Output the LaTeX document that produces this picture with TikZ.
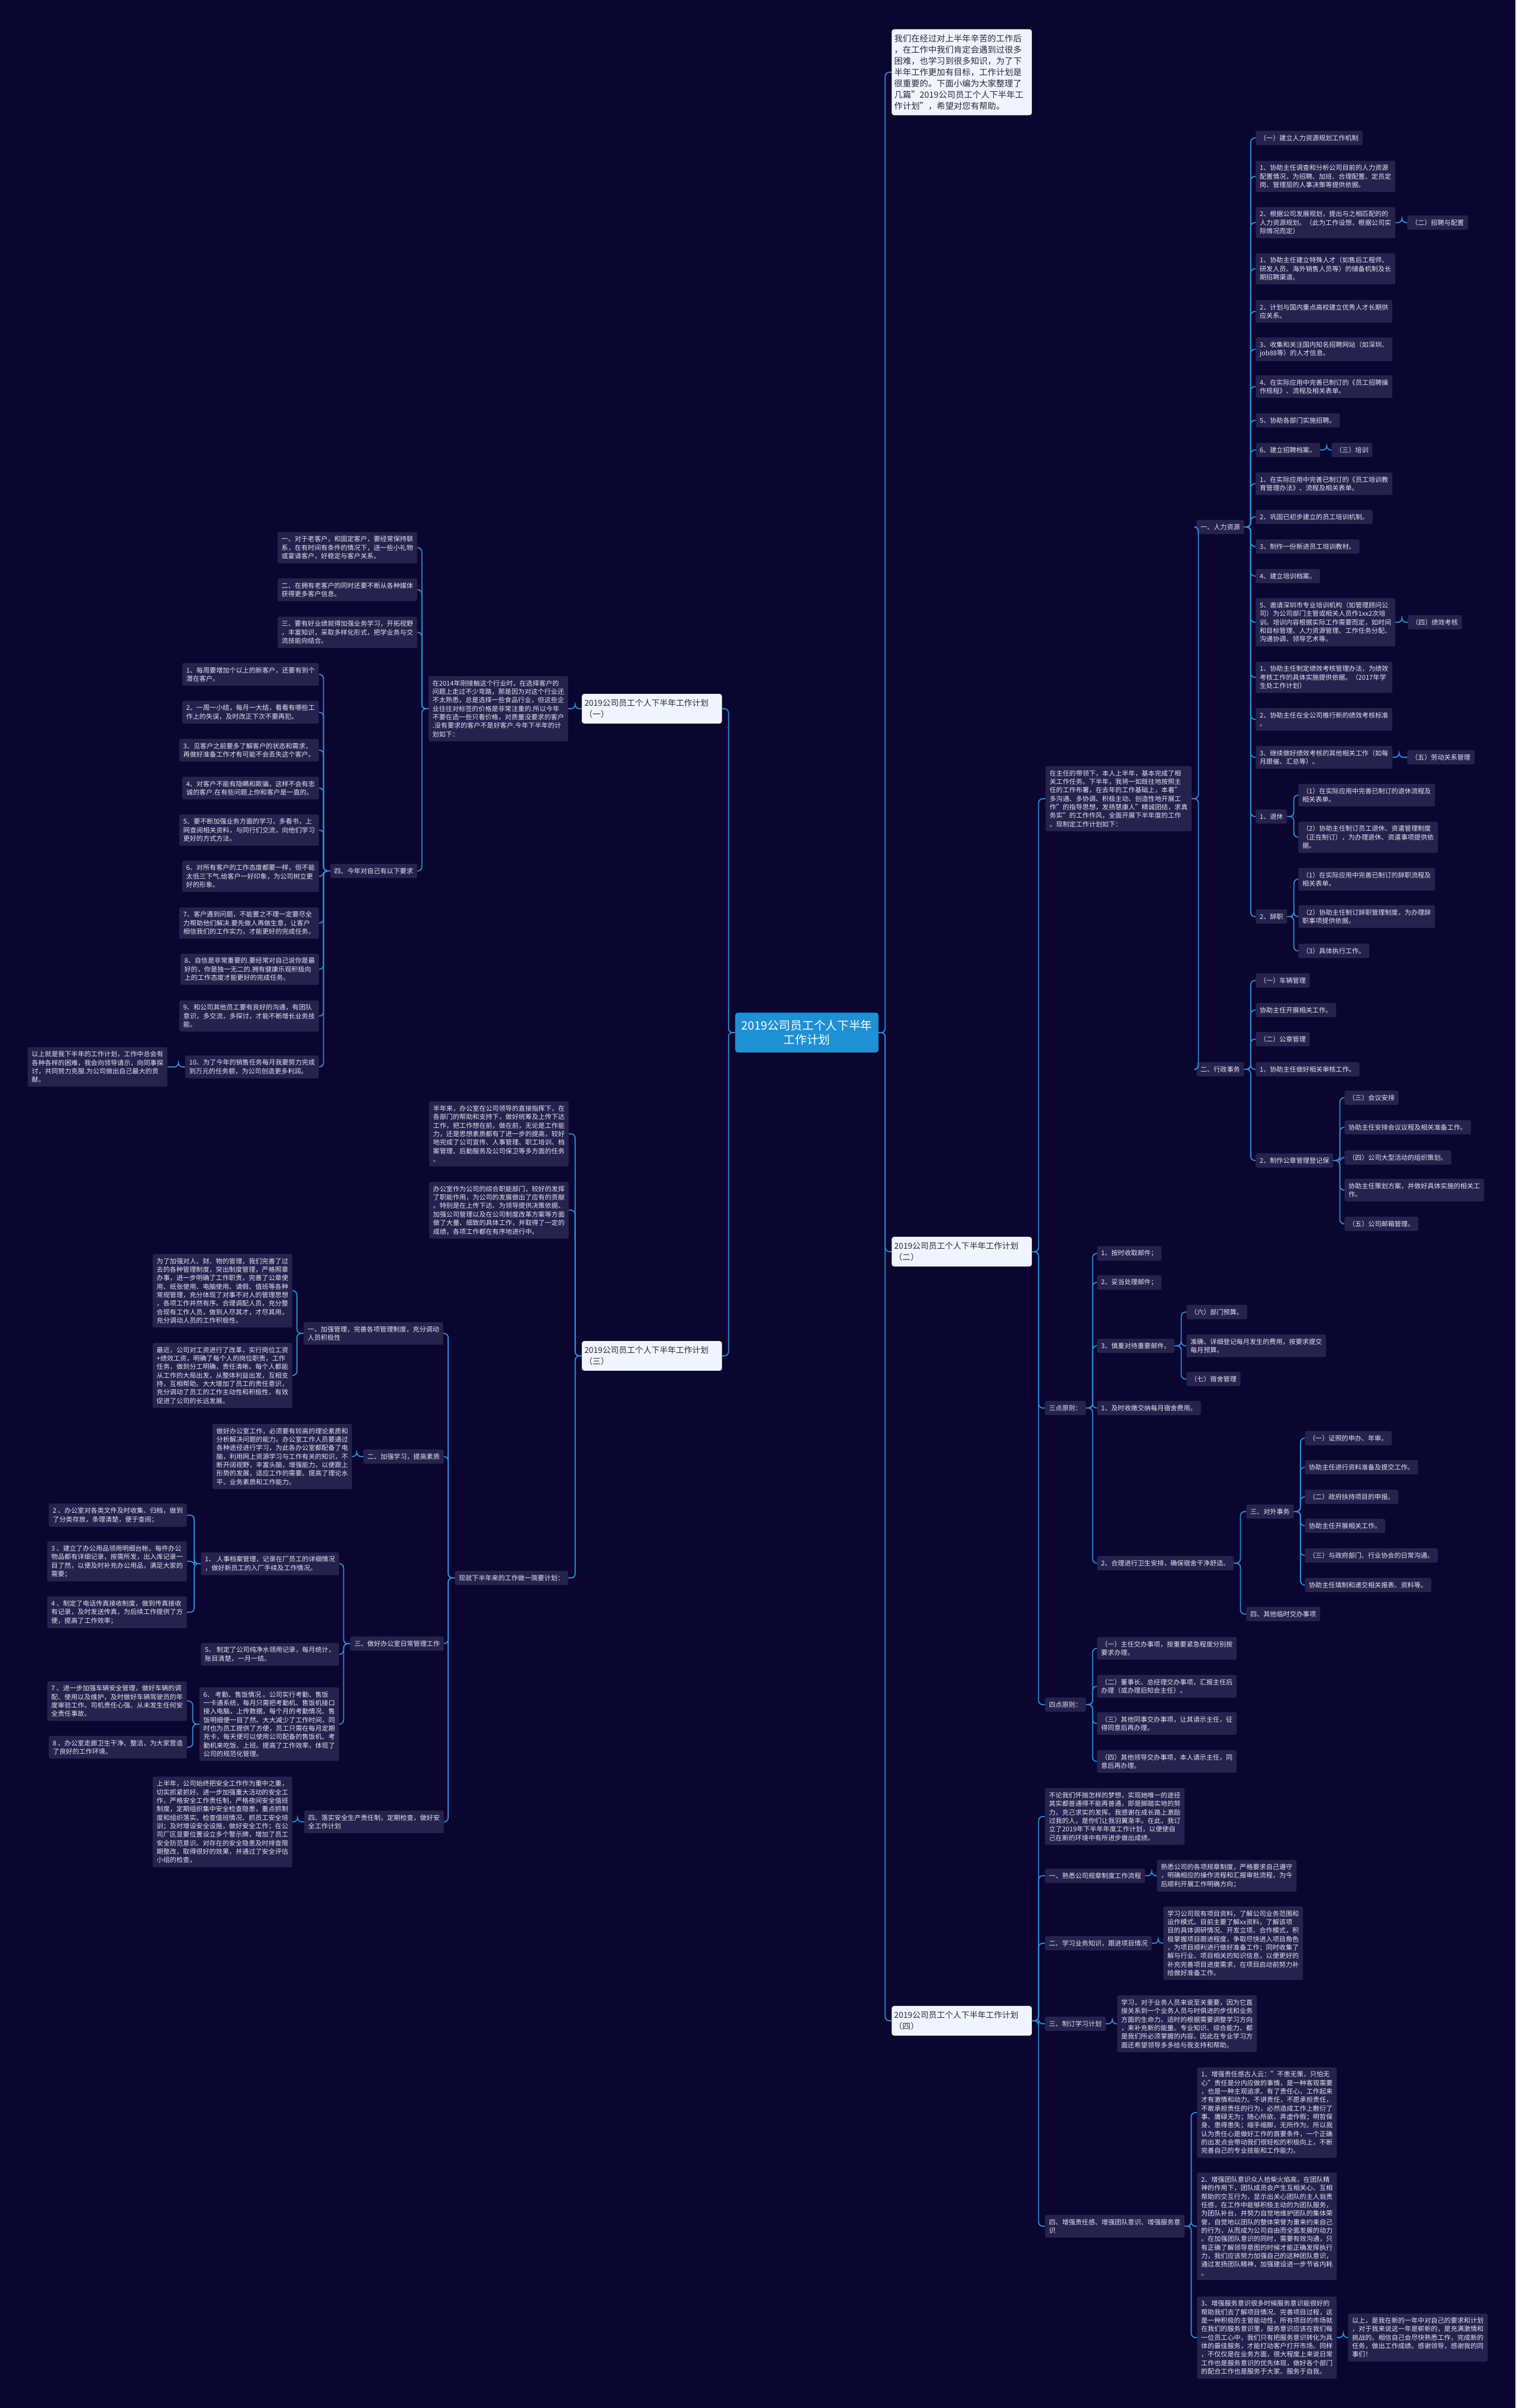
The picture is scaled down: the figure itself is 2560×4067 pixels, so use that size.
\documentclass[tikz,border=0pt]{standalone}
\usepackage{fontspec}
\setmainfont{Noto Sans CJK SC}
\usetikzlibrary{positioning}

\definecolor{bgnavy}{RGB}{11,6,48}
\definecolor{leaffill}{RGB}{38,34,78}
\definecolor{leaftext}{RGB}{230,230,240}
\definecolor{topicfill}{RGB}{240,245,253}
\definecolor{topictext}{RGB}{40,40,60}
\definecolor{rootblue}{RGB}{30,144,212}
\definecolor{linkblue}{RGB}{45,140,215}

\tikzset{
  rootnode/.style={fill=rootblue, text=white, rounded corners=3pt, align=center,
    minimum width=6.05cm, inner ysep=0.3cm, font=\fontsize{14pt}{17.7pt}\selectfont},
  topic/.style={fill=topicfill, text=topictext, rounded corners=3pt, align=left,
    text width=5.7cm, inner xsep=0.11cm, inner ysep=0.22cm, font=\fontsize{9.8pt}{13.9pt}\selectfont},
  intro/.style={topic, font=\fontsize{10.2pt}{13.5pt}\selectfont},
  leaf/.style={fill=leaffill, text=leaftext, rounded corners=2pt, align=left,
    inner xsep=0.17cm, inner ysep=0.17cm, font=\fontsize{7.9pt}{10.2pt}\selectfont},
  rleaf/.style={leaf, anchor=west},
  lleaf/.style={leaf, anchor=east},
  link/.style={draw=linkblue, line width=1.3pt, rounded corners=5pt}
}

\begin{document}
\begin{tikzpicture}[x=0.025cm, y=-0.025cm]
\useasboundingbox (0,0) rectangle (2560,4067);
\fill[bgnavy] (0,0) rectangle (2560,4067);

% root
\node[rootnode] (root) at (1363,1744) {2019公司员工个人下半年\\工作计划};

% right topics
\node[intro, anchor=west] (intro) at (1506,122) {我们在经过对上半年辛苦的工作后\\，在工作中我们肯定会遇到过很多\\困难，也学习到很多知识，为了下\\半年工作更加有目标，工作计划是\\很重要的。下面小编为大家整理了\\几篇"2019公司员工个人下半年工\\作计划"，希望对您有帮助。};
\node[topic, anchor=west] (t2) at (1506,2114) {2019公司员工个人下半年工作计划\\（二）};
\node[topic, anchor=west] (t4) at (1506,3413) {2019公司员工个人下半年工作计划\\（四）};

% left topics
\node[topic, anchor=east] (t1) at (1220,1197) {2019公司员工个人下半年工作计划\\（一）};
\node[topic, anchor=east] (t3) at (1220,2290) {2019公司员工个人下半年工作计划\\（三）};

% (二)
\node[rleaf] (p2) at (1766,1349) {在主任的带领下，本人上半年，基本完成了相\\关工作任务。下半年，我将一如既往地按照主\\任的工作布署，在去年的工作基础上，本着"\\多沟通、多协调、积极主动、创造性地开展工\\作"的指导思想，发扬慧康人"精诚团结，求真\\务实"的工作作风，全面开展下半年度的工作\\。现制定工作计划如下：};
\node[rleaf] (m1) at (2021,890) {一、人力资源};
\node[rleaf] (m2) at (2021,1806) {二、行政事务};

\node[rleaf] (n1) at (2121,233) {（一）建立人力资源规划工作机制};
\node[rleaf] (n2) at (2121,298) {1、协助主任调查和分析公司目前的人力资源\\配置情况，为招聘、加班、合理配置、定员定\\岗、管理层的人事决策等提供依据。};
\node[rleaf] (n3) at (2121,376) {2、根据公司发展规划，提出与之相匹配的的\\人力资源规划。（此为工作设想，根据公司实\\际情况而定）};
\node[rleaf] (n3a) at (2377,376) {（二）招聘与配置};
\node[rleaf] (n4) at (2121,454) {1、协助主任建立特殊人才（如售后工程师、\\研发人员、海外销售人员等）的储备机制及长\\期招聘渠道。};
\node[rleaf] (n5) at (2121,526) {2、计划与国内重点高校建立优秀人才长期供\\应关系。};
\node[rleaf] (n6) at (2121,590) {3、收集和关注国内知名招聘网站（如深圳、\\job88等）的人才信息。};
\node[rleaf] (n7) at (2121,653) {4、在实际应用中完善已制订的《员工招聘操\\作规程》、流程及相关表单。};
\node[rleaf] (n8) at (2121,710) {5、协助各部门实施招聘。};
\node[rleaf] (n9) at (2121,760) {6、建立招聘档案。};
\node[rleaf] (n9a) at (2249,760) {（三）培训};
\node[rleaf] (n10) at (2121,817) {1、在实际应用中完善已制订的《员工培训教\\育管理办法》、流程及相关表单。};
\node[rleaf] (n11) at (2121,873) {2、巩固已初步建立的员工培训机制。};
\node[rleaf] (n12) at (2121,923) {3、制作一份新进员工培训教材。};
\node[rleaf] (n13) at (2121,973) {4、建立培训档案。};
\node[rleaf] (n14) at (2121,1051) {5、邀请深圳市专业培训机构（如管理顾问公\\司）为公司部门主管或相关人员作1xx2次培\\训。培训内容根据实际工作需要而定，如时间\\和目标管理、人力资源管理、工作任务分配、\\沟通协调、领导艺术等。};
\node[rleaf] (n14a) at (2378,1051) {（四）绩效考核};
\node[rleaf] (n15) at (2121,1144) {1、协助主任制定绩效考核管理办法，为绩效\\考核工作的具体实施提供依据。（2017年学\\生处工作计划）};
\node[rleaf] (n16) at (2121,1215) {2、协助主任在全公司推行新的绩效考核标准\\。};
\node[rleaf] (n17) at (2121,1279) {3、继续做好绩效考核的其他相关工作（如每\\月跟催、汇总等）。};
\node[rleaf] (n17a) at (2377,1279) {（五）劳动关系管理};
\node[rleaf] (n18) at (2121,1379) {1、退休};
\node[rleaf] (n18a) at (2193,1343) {（1）在实际应用中完善已制订的退休流程及\\相关表单。};
\node[rleaf] (n18b) at (2193,1414) {（2）协助主任制订员工退休、资遣管理制度\\（正在制订），为办理退休、资遣事项提供依\\据。};
\node[rleaf] (n19) at (2121,1548) {2、辞职};
\node[rleaf] (n19a) at (2193,1485) {（1）在实际应用中完善已制订的辞职流程及\\相关表单。};
\node[rleaf] (n19b) at (2193,1548) {（2）协助主任制订辞职管理制度，为办理辞\\职事项提供依据。};
\node[rleaf] (n19c) at (2193,1606) {（3）具体执行工作。};

\node[rleaf] (q1) at (2121,1656) {（一）车辆管理};
\node[rleaf] (q2) at (2121,1706) {协助主任开展相关工作。};
\node[rleaf] (q3) at (2121,1755) {（二）公章管理};
\node[rleaf] (q4) at (2121,1806) {1、协助主任做好相关审核工作。};
\node[rleaf] (q5) at (2121,1960) {2、制作公章管理登记保};
\node[rleaf] (q5a) at (2271,1854) {（三）会议安排};
\node[rleaf] (q5b) at (2271,1904) {协助主任安排会议议程及相关准备工作。};
\node[rleaf] (q5c) at (2271,1955) {（四）公司大型活动的组织策划。};
\node[rleaf] (q5d) at (2271,2010) {协助主任策划方案，并做好具体实施的相关工\\作。};
\node[rleaf] (q5e) at (2271,2067) {（五）公司邮箱管理。};

\node[rleaf] (s1) at (1765,2378) {三点原则：};
\node[rleaf] (r1) at (1853,2117) {1、按时收取邮件；};
\node[rleaf] (r2) at (1853,2166) {2、妥当处理邮件；};
\node[rleaf] (r3) at (1853,2273) {3、慎重对待重要邮件。};
\node[rleaf] (r3a) at (2004,2216) {（六）部门预算。};
\node[rleaf] (r3b) at (2004,2273) {准确、详细登记每月发生的费用，按要求提交\\每月预算。};
\node[rleaf] (r3c) at (2004,2329) {（七）宿舍管理};
\node[rleaf] (r4) at (1853,2378) {1、及时收缴交纳每月宿舍费用。};
\node[rleaf] (r5) at (1853,2640) {2、合理进行卫生安排，确保宿舍干净舒适。};
\node[rleaf] (u1) at (2105,2553) {三、对外事务};
\node[rleaf] (u1a) at (2204,2429) {（一）证照的申办、年审。};
\node[rleaf] (u1b) at (2204,2478) {协助主任进行资料准备及提交工作。};
\node[rleaf] (u1c) at (2204,2528) {（二）政府扶持项目的申报。};
\node[rleaf] (u1d) at (2204,2577) {协助主任开展相关工作。};
\node[rleaf] (u1e) at (2204,2627) {（三）与政府部门、行业协会的日常沟通。};
\node[rleaf] (u1f) at (2204,2677) {协助主任填制和递交相关报表、资料等。};
\node[rleaf] (u2) at (2105,2726) {四、其他临时交办事项};

\node[rleaf] (s2) at (1765,2879) {四点原则：};
\node[rleaf] (v1) at (1853,2784) {（一）主任交办事项，按重要紧急程度分别按\\要求办理。};
\node[rleaf] (v2) at (1853,2848) {（二）董事长、总经理交办事项，汇报主任后\\办理（或办理后知会主任）。};
\node[rleaf] (v3) at (1853,2911) {（三）其他同事交办事项，让其请示主任，征\\得同意后再办理。};
\node[rleaf] (v4) at (1853,2975) {（四）其他领导交办事项，本人请示主任，同\\意后再办理。};

% (四)
\node[rleaf] (w0) at (1765,3068) {不论我们怀揣怎样的梦想，实现她唯一的途径\\其实都普通得不能再普通，即是脚踏实地的努\\力，克己求实的发挥。我感谢在成长路上激励\\过我的人，是你们让我羽翼渐丰。在此，我订\\立了2019年下半年年度工作计划，以便使自\\己在新的环境中有所进步做出成绩。};
\node[rleaf] (w1) at (1765,3168) {一、熟悉公司规章制度工作流程};
\node[rleaf] (w1a) at (1954,3168) {熟悉公司的各项规章制度，严格要求自己遵守\\，明确相应的操作流程和汇报审批流程，为今\\后顺利开展工作明确方向；};
\node[rleaf] (w2) at (1765,3282) {二、学习业务知识，跟进项目情况};
\node[rleaf] (w2a) at (1965,3282) {学习公司现有项目资料，了解公司业务范围和\\运作模式。目前主要了解xx资料，了解该项\\目的具体调研情况、开发立项、合作模式，积\\极掌握项目跟进程度，争取尽快进入项目角色\\，为项目顺利进行做好准备工作；同时收集了\\解与行业、项目相关的知识信息，以便更好的\\补充完善项目进度需求，在项目启动前努力补\\给做好准备工作。};
\node[rleaf] (w3) at (1765,3418) {三、制订学习计划};
\node[rleaf] (w3a) at (1887,3418) {学习，对于业务人员来说至关重要，因为它直\\接关系到一个业务人员与时俱进的步伐和业务\\方面的生命力。适时的根据需要调整学习方向\\，来补充新的能量。专业知识、综合能力、都\\是我们所必须掌握的内容。因此在专业学习方\\面还希望领导多多给与我支持和帮助。};
\node[rleaf] (w4) at (1765,3760) {四、增强责任感、增强团队意识、增强服务意\\识};
\node[rleaf] (x1) at (2022,3568) {1、增强责任感古人云："不患无策，只怕无\\心"责任是分内应做的事情，是一种客观需要\\，也是一种主观追求。有了责任心，工作起来\\才有激情和动力。不讲责任，不愿承担责任，\\不敢承担责任的行为，必然造成工作上敷衍了\\事、庸碌无为；随心所欲、弄虚作假；明哲保\\身、患得患失；缩手缩脚，无所作为。所以我\\认为责任心是做好工作的首要条件，一个正确\\的出发点会带动我们很轻松的积极向上，不断\\完善自己的专业技能和工作能力。};
\node[rleaf] (x2) at (2022,3760) {2、增强团队意识众人拾柴火焰高，在团队精\\神的作用下，团队成员会产生互相关心、互相\\帮助的交互行为，显示出关心团队的主人翁责\\任感，在工作中能够积极主动的为团队服务，\\为团队补台，并努力自觉地维护团队的集体荣\\誉，自觉地以团队的整体荣誉为重来约束自己\\的行为，从而成为公司自由而全面发展的动力\\。在加强团队意识的同时，需要有效沟通，只\\有正确了解领导意图的时候才能正确发挥执行\\力，我们应该努力加强自己的这种团队意识，\\通过发扬团队精神，加强建设进一步节省内耗\\。};
\node[rleaf] (x3) at (2022,3948) {3、增强服务意识很多时候服务意识能很好的\\帮助我们去了解项目情况、完善项目过程，这\\是一种积极的主管能动性。所有项目的市场就\\在我们的服务意识里，服务意识应该在我们每\\一位员工心中，我们只有把服务意识转化为具\\体的最佳服务，才能打动客户打开市场。同样\\，不仅仅是在业务方面，很大程度上来说日常\\工作也是服务意识的优先体现，做好各个部门\\的配合工作也是服务于大家、服务于自我。};
\node[rleaf] (y1) at (2277,3948) {以上，是我在新的一年中对自己的要求和计划\\，对于我来说这一年是崭新的，是充满激情和\\挑战的。相信自己会尽快熟悉工作，完成新的\\任务，做出工作成绩。感谢领导，感谢我的同\\事们！};

% (一)
\node[lleaf] (p1) at (960,1197) {在2014年刚接触这个行业时，在选择客户的\\问题上走过不少弯路，那是因为对这个行业还\\不太熟悉，总是选择一些食品行业，但这些企\\业往往对标签的价格是非常注重的.所以今年\\不要在选一些只看价格，对质量没要求的客户\\.没有要求的客户不是好客户.今年下半年的计\\划如下：};
\node[lleaf] (a1) at (705,925) {一、对于老客户，和固定客户，要经常保持联\\系，在有时间有条件的情况下，送一些小礼物\\或宴请客户，好稳定与客户关系。};
\node[lleaf] (a2) at (705,996) {二、在拥有老客户的同时还要不断从各种媒体\\获得更多客户信息。};
\node[lleaf] (a3) at (705,1068) {三、要有好业绩就得加强业务学习，开拓视野\\，丰富知识，采取多样化形式，把学业务与交\\流技能向结合。};
\node[lleaf] (a4) at (705,1471) {四、今年对自己有以下要求};
\node[lleaf] (b1) at (539,1139) {1、每周要增加个以上的新客户，还要有到个\\潜在客户。};
\node[lleaf] (b2) at (539,1203) {2、一周一小结，每月一大结，看看有哪些工\\作上的失误，及时改正下次不要再犯。};
\node[lleaf] (b3) at (539,1267) {3、见客户之前要多了解客户的状态和需求，\\再做好准备工作才有可能不会丢失这个客户。};
\node[lleaf] (b4) at (539,1331) {4、对客户不能有隐瞒和欺骗，这样不会有忠\\诚的客户.在有些问题上你和客户是一直的。};
\node[lleaf] (b5) at (539,1402) {5、要不断加强业务方面的学习，多看书，上\\网查阅相关资料，与同行们交流，向他们学习\\更好的方式方法。};
\node[lleaf] (b6) at (539,1480) {6、对所有客户的工作态度都要一样，但不能\\太低三下气.给客户一好印象，为公司树立更\\好的形象。};
\node[lleaf] (b7) at (539,1559) {7、客户遇到问题，不能置之不理一定要尽全\\力帮助他们解决.要先做人再做生意，让客户\\相信我们的工作实力，才能更好的完成任务。};
\node[lleaf] (b8) at (539,1637) {8、自信是非常重要的.要经常对自己说你是最\\好的，你是独一无二的.拥有健康乐观积极向\\上的工作态度才能更好的完成任务。};
\node[lleaf] (b9) at (539,1716) {9、和公司其他员工要有良好的沟通，有团队\\意识，多交流，多探讨，才能不断增长业务技\\能。};
\node[lleaf] (b10) at (539,1802) {10、为了今年的销售任务每月我要努力完成\\到万元的任务额，为公司创造更多利润。};
\node[lleaf] (c10) at (283,1802) {以上就是我下半年的工作计划，工作中总会有\\各种各样的困难，我会向领导请示，向同事探\\讨，共同努力克服.为公司做出自己最大的贡\\献。};

% (三)
\node[lleaf] (d1) at (961,1915) {半年来，办公室在公司领导的直接指挥下，在\\各部门的帮助和支持下，做好统筹及上传下达\\工作，把工作想在前，做在前，无论是工作能\\力，还是思想素质都有了进一步的提高，较好\\地完成了公司宣传、人事管理、职工培训、档\\案管理、后勤服务及公司保卫等多方面的任务\\。};
\node[lleaf] (d2) at (961,2044) {办公室作为公司的综合职能部门，较好的发挥\\了职能作用，为公司的发展做出了应有的贡献\\。特别是在上传下达、为领导提供决策依据、\\加强公司管理以及在公司制度改革方案等方面\\做了大量、细致的具体工作，并取得了一定的\\成绩，各项工作都在有序地进行中。};
\node[lleaf] (d3) at (960,2665) {现就下半年来的工作做一简要计划：};
\node[lleaf] (e1) at (749,2252) {一、加强管理，完善各项管理制度，充分调动\\人员积极性};
\node[lleaf] (e2) at (750,2460) {二、加强学习，提高素质};
\node[lleaf] (e3) at (750,2776) {三、做好办公室日常管理工作};
\node[lleaf] (e4) at (750,3077) {四、落实安全生产责任制，定期检查，做好安\\全工作计划};
\node[lleaf] (f1) at (494,2180) {为了加强对人、财、物的管理，我们完善了过\\去的各种管理制度，突出制度管理，严格照章\\办事，进一步明确了工作职责，完善了公章使\\用、纸张使用、电脑使用、请假、值班等各种\\常规管理，充分体现了对事不对人的管理思想\\，各项工作井然有序。合理调配人员，充分整\\合现有工作人员，做到人尽其才，才尽其用，\\充分调动人员的工作积极性。};
\node[lleaf] (f2) at (494,2323) {最近，公司对工资进行了改革，实行岗位工资\\+绩效工资，明确了每个人的岗位职责，工作\\任务，做到分工明确，责任清晰。每个人都能\\从工作的大局出发，从整体利益出发，互相支\\持，互相帮助。大大增加了员工的责任意识，\\充分调动了员工的工作主动性和积极性，有效\\促进了公司的长远发展。};
\node[lleaf] (g1) at (595,2460) {做好办公室工作，必须要有较高的理论素质和\\分析解决问题的能力。办公室工作人员要通过\\各种途径进行学习，为此各办公室都配备了电\\脑，利用网上资源学习与工作有关的知识，不\\断开阔视野，丰富头脑，增强能力，以便跟上\\形势的发展，适应工作的需要。提高了理论水\\平、业务素质和工作能力。};
\node[lleaf] (h1) at (573,2641) {1、 人事档案管理，记录在厂员工的详细情况\\，做好新员工的入厂手续及工作情况。};
\node[lleaf] (h2) at (573,2794) {5、 制定了公司纯净水领用记录，每月统计，\\账目清楚，一月一结。};
\node[lleaf] (h3) at (573,2912) {6、 考勤、售饭情况 。公司实行考勤、售饭\\一卡通系统，每月只需把考勤机、售饭机接口\\接入电脑，上传数据，每个月的考勤情况、售\\饭明细便一目了然。大大减少了工作时间，同\\时也为员工提供了方便，员工只需在每月定期\\充卡，每天便可以使用公司配备的售饭机、考\\勤机来吃饭、上班。提高了工作效率，体现了\\公司的规范化管理。};
\node[lleaf] (i1) at (316,2559) {2 、办公室对各类文件及时收集、归档，做到\\了分类存放，条理清楚，便于查阅；};
\node[lleaf] (i2) at (316,2637) {3 、建立了办公用品领用明细台帐，每件办公\\物品都有详细记录，按需所发，出入库记录一\\目了然，以便及时补充办公用品，满足大家的\\需要；};
\node[lleaf] (i3) at (316,2723) {4 、制定了电话传真接收制度，做到传真接收\\有记录，及时发送传真，为后续工作提供了方\\便，提高了工作效率；};
\node[lleaf] (j1) at (316,2873) {7 、进一步加强车辆安全管理，做好车辆的调\\配、使用以及维护，及时做好车辆驾驶员的年\\度审验工作。司机责任心强、从未发生任何安\\全责任事故。};
\node[lleaf] (j2) at (316,2951) {8 、办公室走廊卫生干净、整洁，为大家营造\\了良好的工作环境。};
\node[lleaf] (k1) at (494,3077) {上半年，公司始终把安全工作作为重中之重，\\切实抓紧抓好。进一步加强重大活动的安全工\\作，严格安全工作责任制，严格夜间安全值班\\制度，定期组织集中安全检查隐患，重点抓制\\度和组织落实、检查值班情况、抓员工安全培\\训；及时增设安全设施，做好安全工作；在公\\司厂区显要位置设立多个警示牌，增加了员工\\安全防范意识。对存在的安全隐患及时排查限\\期整改，取得很好的效果，并通过了安全评估\\小组的检查。};

% links, right side
\foreach \pa/\ch in {root/intro, root/t2, root/t4, t2/p2, t2/s1, t2/s2, p2/m1, p2/m2,
  m1/n1, m1/n2, m1/n3, m1/n4, m1/n5, m1/n6, m1/n7, m1/n8, m1/n9, m1/n10, m1/n11,
  m1/n12, m1/n13, m1/n14, m1/n15, m1/n16, m1/n17, m1/n18, m1/n19,
  n3/n3a, n9/n9a, n14/n14a, n17/n17a, n18/n18a, n18/n18b, n19/n19a, n19/n19b, n19/n19c,
  m2/q1, m2/q2, m2/q3, m2/q4, m2/q5, q5/q5a, q5/q5b, q5/q5c, q5/q5d, q5/q5e,
  s1/r1, s1/r2, s1/r3, s1/r4, s1/r5, r3/r3a, r3/r3b, r3/r3c, r5/u1, r5/u2,
  u1/u1a, u1/u1b, u1/u1c, u1/u1d, u1/u1e, u1/u1f, s2/v1, s2/v2, s2/v3, s2/v4,
  t4/w0, t4/w1, t4/w2, t4/w3, t4/w4, w1/w1a, w2/w2a, w3/w3a, w4/x1, w4/x2, w4/x3, x3/y1}
  \draw[link] (\pa.east) -- ++(11,0) |- (\ch.west);

% links, left side
\foreach \pa/\ch in {root/t1, root/t3, t1/p1, p1/a1, p1/a2, p1/a3, p1/a4,
  a4/b1, a4/b2, a4/b3, a4/b4, a4/b5, a4/b6, a4/b7, a4/b8, a4/b9, a4/b10, b10/c10,
  t3/d1, t3/d2, t3/d3, d3/e1, d3/e2, d3/e3, d3/e4, e1/f1, e1/f2, e2/g1,
  e3/h1, e3/h2, e3/h3, h1/i1, h1/i2, h1/i3, h3/j1, h3/j2, e4/k1}
  \draw[link] (\pa.west) -- ++(-11,0) |- (\ch.east);
\end{tikzpicture}
\end{document}
